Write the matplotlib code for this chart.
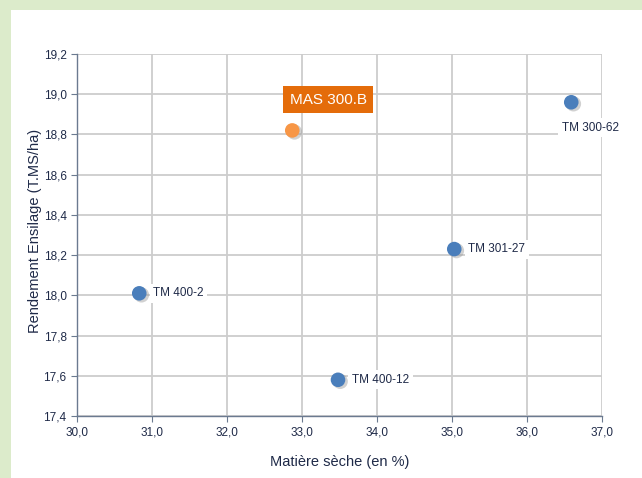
import matplotlib.pyplot as plt
from matplotlib.patches import Rectangle
from matplotlib.ticker import FuncFormatter, MultipleLocator

# Data
names = ['TM 400-2', 'MAS 300.B', 'TM 400-12', 'TM 301-27', 'TM 300-62']
mat_seche = [30.83, 32.87, 33.48, 35.03, 36.59]
rendement = [18.01, 18.82, 17.58, 18.23, 18.96]
highlight = 'MAS 300.B'

plt.rcParams['font.family'] = ['Liberation Sans Narrow', 'Liberation Sans', 'DejaVu Sans']

text_col = '#1f2a48'
blue = '#4a7ebb'
orange_dot = '#f79646'
orange_box = '#e46c0a'

fig = plt.figure(figsize=(6.42, 4.78), dpi=100)
fig.patch.set_facecolor('#dcebcb')
fig.patches.append(Rectangle((11 / 642, 0), 1, 1 - 10 / 478, transform=fig.transFigure,
                             facecolor='white', edgecolor='none', zorder=-10))

ax = fig.add_axes([77 / 642, 62 / 478, 525 / 642, 362 / 478])
ax.set_facecolor('white')
ax.set_xlim(30, 37)
ax.set_ylim(17.4, 19.2)
ax.xaxis.set_major_locator(MultipleLocator(1))
ax.yaxis.set_major_locator(MultipleLocator(0.2))
fmt = FuncFormatter(lambda v, p: ('%.1f' % v).replace('.', ','))
ax.xaxis.set_major_formatter(fmt)
ax.yaxis.set_major_formatter(fmt)
ax.grid(color='#cdcdcd', linewidth=1.3)
ax.set_axisbelow(True)
for side in ['top', 'right']:
    ax.spines[side].set_visible(False)
for side in ['left', 'bottom']:
    ax.spines[side].set_color('#6b7a90')
    ax.spines[side].set_linewidth(1.0)
ax.tick_params(colors='#6b7a90', labelcolor=text_col, labelsize=8.5, length=4, width=0.8)

# Points with a soft shadow
for n, x, y in zip(names, mat_seche, rendement):
    c = orange_dot if n == highlight else blue
    ax.scatter([x + 0.03], [y - 0.008], s=120, color='#9a9a9a', alpha=0.45,
               edgecolors='none', zorder=2)
    ax.scatter([x], [y], s=110, color=c, edgecolors='none', zorder=3)

# Labels
offsets = {'TM 400-2': (10, 0, 'left', 'center'),
           'TM 400-12': (10, 0, 'left', 'center'),
           'TM 301-27': (10, 0, 'left', 'center'),
           'TM 300-62': (-7, -14, 'left', 'top')}
for n, x, y in zip(names, mat_seche, rendement):
    if n == highlight:
        ax.annotate(n, (x, y), xytext=(26, 22), textcoords='offset points',
                    ha='center', va='center', fontsize=11, color='white',
                    bbox=dict(boxstyle='square,pad=0.42', fc=orange_box, ec='none'),
                    zorder=5)
    else:
        dx, dy, ha, va = offsets[n]
        ax.annotate(n, (x, y), xytext=(dx, dy), textcoords='offset points',
                    ha=ha, va=va, fontsize=8.5, color=text_col,
                    bbox=dict(boxstyle='square,pad=0.3', fc='white', ec='none'),
                    zorder=4)

ax.set_xlabel('Matière sèche (en %)', fontsize=10.5, color=text_col, labelpad=12)
ax.set_ylabel('Rendement Ensilage (T.MS/ha)', fontsize=10.5, color=text_col)
ax.yaxis.set_label_coords(-0.067, 0.51)

plt.savefig('out.png', dpi=100, facecolor=fig.get_facecolor())
